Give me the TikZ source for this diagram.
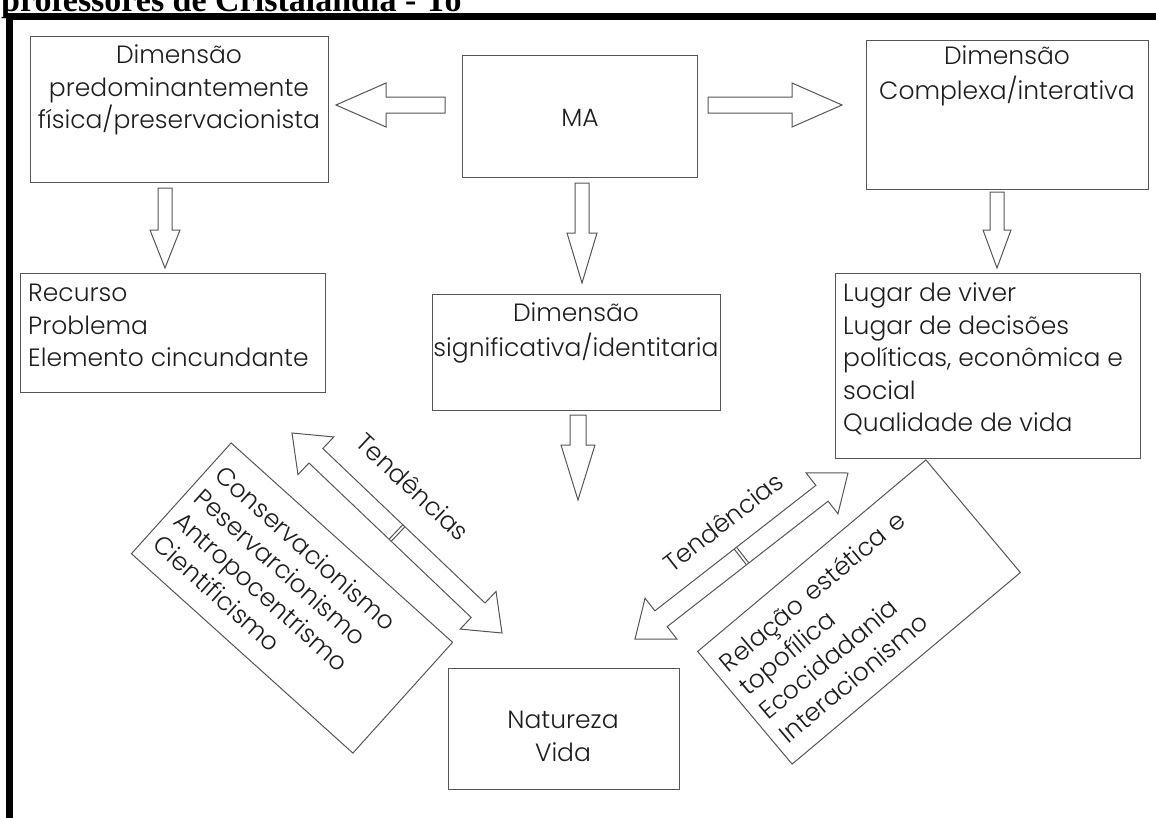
\documentclass[tikz,border=0pt]{standalone}
\usepackage{fontspec}
\IfFontExistsTF{Poppins Light}{\setmainfont{Poppins Light}}{\setmainfont{Poppins}}
\newfontfamily\titlefont{Liberation Serif}
\usetikzlibrary{calc}
\definecolor{ln}{RGB}{85,85,85}
\definecolor{tx}{RGB}{30,30,30}
\newcommand{\sarrow}[5]{%
  \coordinate (#2-h) at ($(#2)!#5!(#1)$);
  \draw[barrow] ($(#1)!#3!90:(#2)$) -- ($(#2-h)!#3!-90:(#1)$) -- ($(#2-h)!#4!-90:(#1)$) -- (#2)
    -- ($(#2-h)!#4!90:(#1)$) -- ($(#2-h)!#3!90:(#1)$) -- ($(#1)!#3!-90:(#2)$) -- cycle;}
\newcommand{\dblarrow}[2]{%
  \coordinate (#1-h) at ($(#1)!33pt!(#2)$);
  \coordinate (#2-h) at ($(#2)!33pt!(#1)$);
  \coordinate (#1-m) at ($(#1)!0.5!(#2)$);
  \draw[barrow] (#1) -- ($(#1-h)!26pt!90:(#2)$) -- ($(#1-h)!10pt!90:(#2)$) -- ($(#2-h)!10pt!-90:(#1)$)
    -- ($(#2-h)!26pt!-90:(#1)$) -- (#2) -- ($(#2-h)!26pt!90:(#1)$) -- ($(#2-h)!10pt!90:(#1)$)
    -- ($(#1-h)!10pt!-90:(#2)$) -- ($(#1-h)!26pt!-90:(#2)$) -- cycle;
  \draw[barrow] ($($(#1-m)!1.5pt!(#1)$)!10pt!90:(#2)$) -- ($($(#1-m)!1.5pt!(#1)$)!10pt!-90:(#2)$);
  \draw[barrow] ($($(#1-m)!1.5pt!(#2)$)!10pt!90:(#2)$) -- ($($(#1-m)!1.5pt!(#2)$)!10pt!-90:(#2)$);}
\begin{document}
\begin{tikzpicture}[x=1pt,y=-1pt,
  box/.style={draw=ln, line width=1.1pt, inner sep=0pt, anchor=north west},
  txt/.style={text=tx, font=\fontsize{25}{32.5}\selectfont, inner sep=0pt},
  barrow/.style={draw=ln, line width=1pt, fill=white, line join=miter},
  rbox/.style={draw=ln, line width=1pt, text=tx, font=\fontsize{25}{31}\selectfont,
    align=left, text width=278pt, inner xsep=10pt, inner ysep=0pt}]
\useasboundingbox (0,0) rectangle (1156,817);
% title (cut off at the top)
\node[anchor=base west, inner sep=0pt, font=\titlefont\bfseries\fontsize{34}{34}\selectfont] (title) at (1,11) {professores de Cristalândia - To};
% frame
\draw[line width=7pt, black, line join=miter] (9.5,830) -- (9.5,16.5) -- (1170,16.5);
% boxes
\node[box, minimum width=298pt, minimum height=146pt] (A) at (30,36) {};
\node[box, minimum width=235pt, minimum height=122pt] (MA) at (462,55) {};
\node[box, minimum width=282pt, minimum height=149pt] (C) at (866,40) {};
\node[box, minimum width=305pt, minimum height=119pt] (B) at (20,273) {};
\node[box, minimum width=288pt, minimum height=116pt] (D) at (432,294) {};
\node[box, minimum width=305pt, minimum height=185pt] (E) at (835,273) {};
\node[box, minimum width=231pt, minimum height=121pt] (N) at (448,668) {};
% texts
\node[txt, align=center, anchor=north] (At) at (179,41) {\strut Dimensão\\predominantemente\\física/preservacionista};
\node[txt, anchor=north] (MAt) at (580,104) {\strut MA};
\node[txt, align=center, anchor=north] (Ct) at (1007,42) {\strut Dimensão\\Complexa/interativa};
\node[txt, align=left, anchor=north west] (Bt) at (28,279) {\strut Recurso\\Problema\\Elemento cincundante};
\node[txt, align=center, anchor=north] (Dt) at (576,299) {\strut Dimensão\\significativa/identitaria};
\node[txt, align=left, anchor=north west] (Et) at (843,279) {\strut Lugar de viver\\Lugar de decisões\\políticas, econômica e\\social\\Qualidade de vida};
\node[txt, align=center, anchor=north] (Nt) at (563,706) {\strut Natureza\\Vida};
% rotated boxes
\node[rbox, rotate=-42, minimum height=149pt] (L) at (292,598) {Conservacionismo\\Peservarcionismo\\Antropocentrismo\\Cientificismo};
\node[rbox, rotate=40, minimum height=147pt] (R) at (859,612) {Relação estética e\\topofílica\\Ecocidadania\\Interacionismo};
% arrows
\coordinate (a1s) at (445,105); \coordinate (a1t) at (336,105);
\sarrow{a1s}{a1t}{8pt}{22pt}{50pt}
\coordinate (a2s) at (708,105); \coordinate (a2t) at (842,105);
\sarrow{a2s}{a2t}{8pt}{22pt}{50pt}
\coordinate (a3s) at (165,188); \coordinate (a3t) at (165,268);
\sarrow{a3s}{a3t}{7pt}{15pt}{38pt}
\coordinate (a4s) at (582,183); \coordinate (a4t) at (582,283);
\sarrow{a4s}{a4t}{7pt}{15pt}{50pt}
\coordinate (a5s) at (997,192); \coordinate (a5t) at (997,268);
\sarrow{a5s}{a5t}{7pt}{14pt}{38pt}
\coordinate (a6s) at (578,415); \coordinate (a6t) at (578,500);
\sarrow{a6s}{a6t}{8pt}{17pt}{55pt}
\coordinate (t1) at (292,433); \coordinate (t2) at (502,633);
\dblarrow{t1}{t2}
\coordinate (t3) at (848,473); \coordinate (t4) at (635,639);
\dblarrow{t3}{t4}
\node[txt, rotate=-43] (tl) at (413,487) {Tendências};
\node[txt, rotate=38] (tr) at (723,522) {Tendências};
\end{tikzpicture}
\end{document}
